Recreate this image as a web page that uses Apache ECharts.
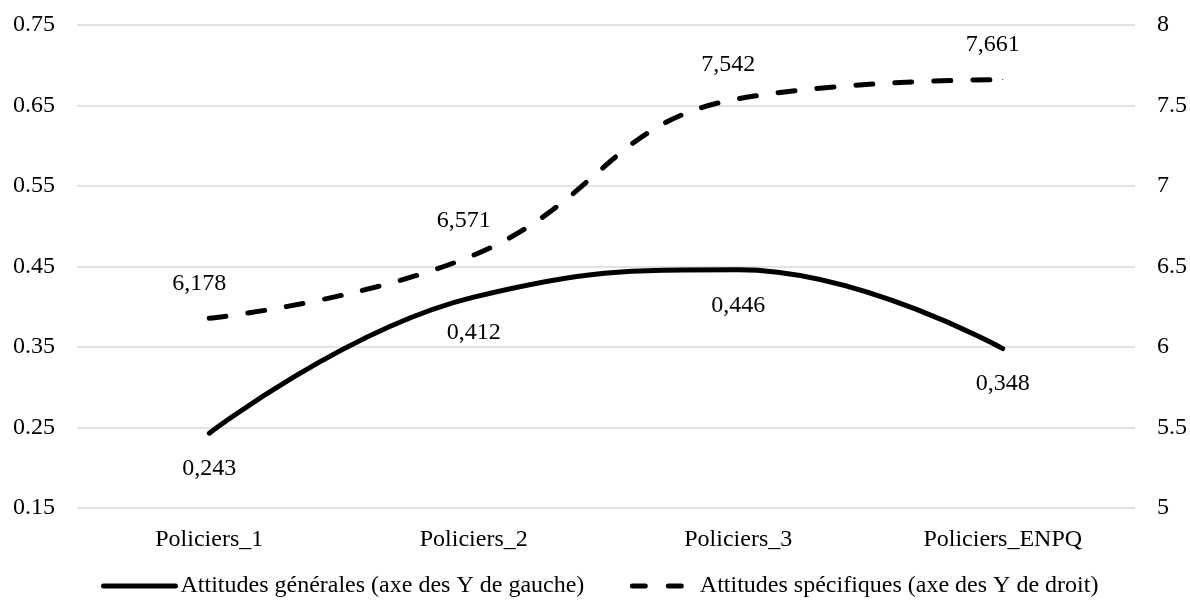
<!DOCTYPE html>
<html>
<head>
<meta charset="utf-8">
<script src="https://cdn.jsdelivr.net/npm/echarts@6/dist/echarts.min.js"></script>
<style>html,body{margin:0;padding:0;background:#fff;}#c{width:1190px;height:608px;}</style>
</head>
<body>
<div id="c"></div>
<script>
var categories = ['Policiers_1', 'Policiers_2', 'Policiers_3', 'Policiers_ENPQ'];
var generales = [0.243, 0.412, 0.446, 0.348];
var specifiques = [6.178, 6.571, 7.542, 7.661];
var nameGen = 'Attitudes générales (axe des Y de gauche)';
var nameSpec = 'Attitudes spécifiques (axe des Y de droit)';
var FONT = '"Liberation Serif", "Times New Roman", serif';

var chart = echarts.init(document.getElementById('c'), null, {renderer: 'canvas'});
function fmt(p) { return String(p.value).replace('.', ','); }
chart.setOption({
  animation: false,
  backgroundColor: '#fff',
  textStyle: {fontFamily: FONT, color: '#000'},
  grid: {left: 77, right: 55, top: 25, bottom: 100},
  legend: {
    bottom: 5, left: 96,
    itemWidth: 72, itemHeight: 14, itemGap: 36,
    textStyle: {fontFamily: FONT, fontSize: 24, color: '#000'},
    itemStyle: {opacity: 0},
    data: [
      {name: nameGen, lineStyle: {width: 5, color: '#000', cap: 'round'}},
      {name: nameSpec, lineStyle: {width: 5, color: '#000', type: [13, 23], dashOffset: 26.5, cap: 'round'}}
    ]
  },
  xAxis: {
    type: 'category', data: categories,
    axisLine: {show: false}, axisTick: {show: false},
    axisLabel: {fontFamily: FONT, fontSize: 24, color: '#000', margin: 20}
  },
  yAxis: [{
    type: 'value', min: 0.15, max: 0.75, interval: 0.1,
    axisLabel: {fontFamily: FONT, fontSize: 24, color: '#000', margin: 22,
      formatter: function (v) { return v.toFixed(2); }},
    splitLine: {lineStyle: {color: '#d9d9d9', width: 1.5}},
    axisLine: {show: false}, axisTick: {show: false}
  }, {
    type: 'value', min: 5, max: 8, interval: 0.5, position: 'right',
    axisLabel: {fontFamily: FONT, fontSize: 24, color: '#000', margin: 22},
    splitLine: {show: false}, axisLine: {show: false}, axisTick: {show: false}
  }],
  series: [{
    name: nameGen, type: 'line', yAxisIndex: 0, data: generales,
    smooth: 0.45, symbol: 'circle', symbolSize: 1, showSymbol: true,
    lineStyle: {color: '#000', width: 5, cap: 'round'},
    itemStyle: {color: '#000'},
    label: {show: true, position: 'bottom', distance: 23, fontFamily: FONT, fontSize: 24, color: '#000', formatter: fmt}
  }, {
    name: nameSpec, type: 'line', yAxisIndex: 1, data: specifiques,
    smooth: 0.45, symbol: 'circle', symbolSize: 1, showSymbol: true,
    lineStyle: {color: '#000', width: 5, type: [17, 22], cap: 'round'},
    itemStyle: {color: '#000'},
    label: {show: true, position: 'top', distance: 22, offset: [-10, 0], fontFamily: FONT, fontSize: 24, color: '#000', formatter: fmt}
  }]
});
</script>
</body>
</html>
